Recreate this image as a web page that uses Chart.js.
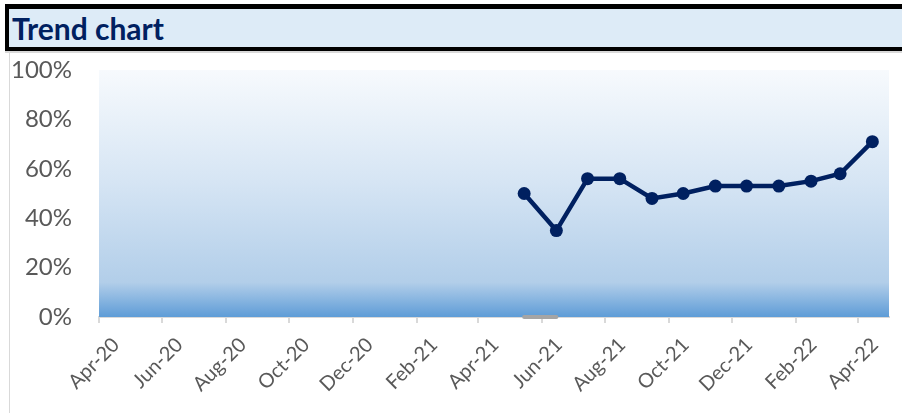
<!DOCTYPE html>
<html>
<head>
<meta charset="utf-8">
<script src="https://cdn.jsdelivr.net/npm/chart.js@4.4.1/dist/chart.umd.min.js"></script>
<style>
  html, body { margin: 0; padding: 0; background: #fff; width: 902px; height: 413px; overflow: hidden; }
  #titleBar {
    position: absolute; left: 5px; top: 4px; width: 893px; height: 38px;
    border-top: 5px solid #000; border-left: 4px solid #000; border-bottom: 4px solid #000;
    background: #ddebf7;
    font-family: Lato, "Noto Sans", sans-serif; font-weight: bold; font-size: 30px;
    color: #002060; line-height: 38px; padding-left: 3px;
    box-shadow: 0 2px 0 #d9d9d9;
  }
  #leftRule { position: absolute; left: 9px; top: 53px; width: 1px; height: 360px; background: #d9d9d9; }
  #wrap { position: absolute; left: 0; top: 53px; width: 902px; height: 360px; }
</style>
</head>
<body>
<div id="titleBar">Trend chart</div>
<div id="leftRule"></div>
<div id="wrap"><canvas id="myChart"></canvas></div>
<script>
var axisStart = '2020-04-01';
var axisEnd = '2022-05-01';

// x tick labels, every 2 months
var tickDates = ['2020-04-01','2020-06-01','2020-08-01','2020-10-01','2020-12-01','2021-02-01',
                 '2021-04-01','2021-06-01','2021-08-01','2021-10-01','2021-12-01','2022-02-01','2022-04-01'];
var tickLabels = ['Apr-20','Jun-20','Aug-20','Oct-20','Dec-20','Feb-21',
                  'Apr-21','Jun-21','Aug-21','Oct-21','Dec-21','Feb-22','Apr-22'];

// monthly points (mid month)
var pointDates = ['2021-05-15','2021-06-15','2021-07-15','2021-08-15','2021-09-15','2021-10-15',
                  '2021-11-15','2021-12-15','2022-01-15','2022-02-15','2022-03-15','2022-04-15'];
var trendValues = [50, 35, 56, 56, 48, 50, 53, 53, 53, 55, 58, 71];

var baseDates = ['2021-05-15','2021-06-15'];
var baseValues = [0, 0];

var yTicks = [0, 20, 40, 60, 80, 100];

function dayIndex(s){
  return (Date.parse(s) - Date.parse(axisStart)) / 86400000;
}

function toPoints(dates, vals){
  var out = [];
  for (var i = 0; i < dates.length; i++){
    out.push({x: dayIndex(dates[i]), y: vals[i]});
  }
  return out;
}

var plotBg = {
  id: 'plotBg',
  beforeDatasetsDraw: function(chart){
    var a = chart.chartArea, c = chart.ctx;
    var g = c.createLinearGradient(0, a.top, 0, a.bottom);
    g.addColorStop(0, '#f7fafd');
    g.addColorStop(0.45, '#d6e5f4');
    g.addColorStop(0.86, '#b2cee9');
    g.addColorStop(1, '#5e9cd7');
    c.save();
    c.fillStyle = g;
    c.fillRect(a.left, a.top, a.right - a.left, a.bottom - a.top);
    c.restore();
  }
};

window.onload = function(){
  var ctx = document.getElementById('myChart').getContext('2d');
  var myChart = new Chart(ctx, {
    type: 'line',
    data: {
      datasets: [
        {
          data: toPoints(baseDates, baseValues),
          borderColor: '#a5a5a5',
          borderWidth: 4,
          borderCapStyle: 'round',
          pointRadius: 0,
          clip: false,
          fill: false
        },
        {
          data: toPoints(pointDates, trendValues),
          borderColor: '#002060',
          backgroundColor: '#002060',
          borderWidth: 4.5,
          pointRadius: 6.5,
          pointBorderWidth: 0,
          clip: false,
          fill: false
        }
      ]
    },
    options: {
      responsive: true,
      maintainAspectRatio: false,
      animation: false,
      layout: { padding: { top: 17, right: 13, left: 0, bottom: 0 } },
      plugins: { legend: { display: false }, tooltip: { enabled: false } },
      scales: {
        x: {
          type: 'linear',
          min: 0,
          max: dayIndex(axisEnd),
          afterBuildTicks: function(scale){
            scale.ticks = tickDates.map(function(d){ return {value: dayIndex(d)}; });
          },
          afterFit: function(scale){
            scale.height = 96;
            scale.paddingLeft = 0; scale.paddingRight = 0;
          },
          grid: { drawOnChartArea: false, drawTicks: true, tickLength: 6, color: '#d9d9d9', lineWidth: 2 },
          border: { color: '#d9d9d9', width: 2 },
          ticks: {
            autoSkip: false,
            maxRotation: 45,
            minRotation: 45,
            labelOffset: 17,
            padding: 10,
            color: '#595959',
            font: { family: 'Lato', size: 20 },
            callback: function(v){
              var i = tickDates.map(dayIndex).indexOf(v);
              return i >= 0 ? tickLabels[i] : '';
            }
          }
        },
        y: {
          min: 0,
          max: 100,
          afterBuildTicks: function(scale){
            scale.ticks = yTicks.map(function(v){ return {value: v}; });
          },
          afterFit: function(scale){
            scale.width = 99;
            scale.paddingTop = 0; scale.paddingBottom = 0;
          },
          grid: { display: false, drawTicks: false },
          border: { display: false },
          ticks: {
            padding: 27,
            color: '#595959',
            font: { family: 'Lato', size: 24 },
            callback: function(v){ return v + '%'; }
          }
        }
      }
    },
    plugins: [plotBg]
  });
};
</script>
</body>
</html>
